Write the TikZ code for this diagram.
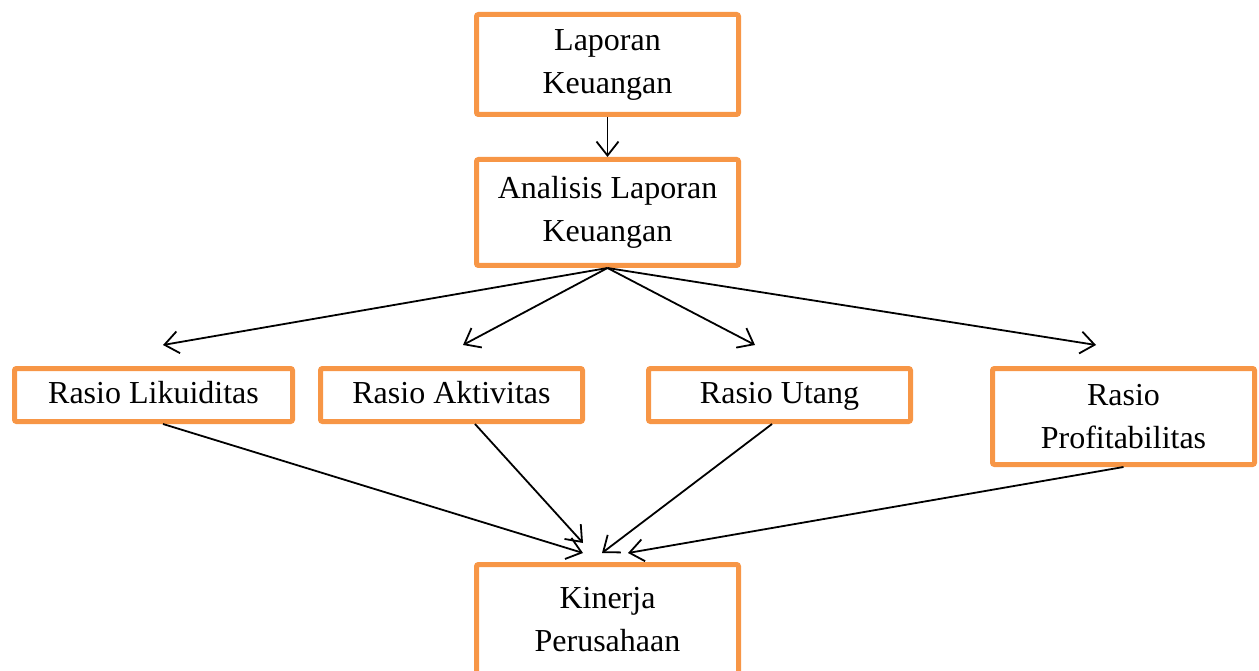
\documentclass[tikz,border=0pt]{standalone}
\usepackage{fontspec}
\setmainfont{Liberation Serif}
\usetikzlibrary{arrows.meta}
\definecolor{oranye}{HTML}{F79646}
\tikzset{
	kotak/.style={draw=oranye, line width=5pt, rounded corners=2pt, inner sep=0pt,
		align=center, minimum width=262pt, minimum height=100pt,
		font=\fontsize{32}{43}\selectfont},
	panah/.style={line width=1.8pt, -{Straight Barb[length=14pt, width=22pt, line width=1.8pt]}}
}
\begin{document}
\begin{tikzpicture}[x=1pt, y=-1pt]
	\useasboundingbox (0,0) rectangle (1259,671);
	\node[kotak] (lapkeu) at (607.5,64.5) {Laporan\\Keuangan};
	\node[kotak, minimum height=106pt] (analisis) at (607.5,212.5) {Analisis Laporan\\Keuangan};
	\node[kotak, minimum width=278pt, minimum height=53pt] (likuiditas) at (153.5,395) {\strut Rasio Likuiditas};
	\node[kotak, minimum height=53pt] (aktivitas) at (451.5,395) {\strut Rasio Aktivitas};
	\node[kotak, minimum height=53pt] (utang) at (779.5,395) {\strut Rasio Utang};
	\node[kotak, minimum height=96pt] (profit) at (1123.5,416.5) {Rasio\\Profitabilitas};
	\node[kotak, minimum height=111pt] (kinerja) at (607.5,620) {Kinerja\\Perusahaan};
	% ujung panah
	\coordinate (ke-likuiditas) at (163,345);
	\coordinate (ke-aktivitas) at (463,345);
	\coordinate (ke-utang) at (755,345);
	\coordinate (ke-profit) at (1096,345);
	\draw[panah] (lapkeu.south) -- (analisis.north);
	\foreach \t in {likuiditas, aktivitas, utang, profit}
		\draw[panah] (analisis.south) -- (ke-\t);
	\draw[panah] ([xshift=9.5pt]likuiditas.south) -- (583,553);
	\draw[panah] ([xshift=23.5pt]aktivitas.south) -- (583,543);
	\draw[panah] ([xshift=-7.5pt]utang.south) -- (602,553);
	\draw[panah] (profit.south) -- (628,553);
\end{tikzpicture}
\end{document}
